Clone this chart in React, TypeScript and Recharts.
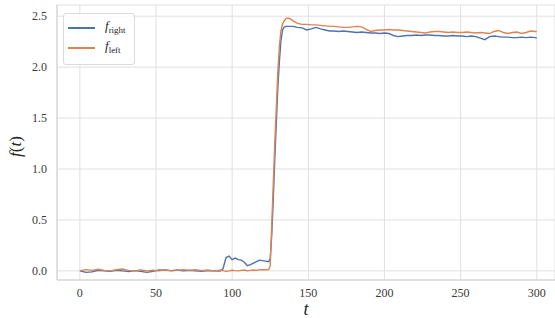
import { LineChart, Line, XAxis, YAxis, CartesianGrid, Legend, Label } from "recharts";

// time samples (denser around the jump)
const tValues = [
  0, 4, 8, 12, 16, 20, 24, 28, 32, 36, 40, 44, 48, 52, 56, 60, 64, 68, 72, 76, 80, 84, 88, 92,
  94, 96, 98, 100, 102, 104, 106, 108, 110, 112, 114, 116, 118, 120, 122, 124,
  125, 126, 127, 128, 129, 130, 131, 132, 133, 134, 135, 136, 137, 138,
  140, 143, 146, 149, 152, 155, 158, 161, 164, 167, 170, 173, 176, 179, 182, 185, 188, 191, 194, 197,
  200, 203, 206, 209, 212, 215, 218, 221, 224, 227, 230, 233, 236, 239, 242, 245, 248, 251, 254, 257,
  260, 263, 266, 269, 272, 275, 278, 281, 284, 287, 290, 293, 296, 299, 300,
];

const fRight = [
  0.0, -0.015, -0.01, 0.005, 0.0, -0.005, 0.005, 0.0, -0.008, 0.002, -0.005, -0.015, -0.005, 0.008, 0.005, 0.002, 0.008, 0.0, 0.005, 0.0, -0.005, 0.002, 0.0, -0.003,
  0.02, 0.13, 0.145, 0.11, 0.125, 0.11, 0.105, 0.085, 0.05, 0.06, 0.075, 0.09, 0.105, 0.1, 0.095, 0.09,
  0.12, 0.35, 0.7, 1.1, 1.45, 1.8, 2.05, 2.25, 2.36, 2.39, 2.4, 2.4, 2.4, 2.4,
  2.4, 2.39, 2.385, 2.365, 2.375, 2.39, 2.375, 2.365, 2.355, 2.355, 2.35, 2.355, 2.35, 2.345, 2.34, 2.345, 2.34, 2.335, 2.335, 2.33,
  2.335, 2.33, 2.31, 2.3, 2.305, 2.31, 2.31, 2.315, 2.31, 2.315, 2.315, 2.31, 2.31, 2.305, 2.305, 2.31, 2.305, 2.305, 2.3, 2.305,
  2.3, 2.285, 2.27, 2.3, 2.305, 2.3, 2.295, 2.295, 2.29, 2.29, 2.295, 2.29, 2.295, 2.29, 2.285,
];

const fLeft = [
  0.0, 0.012, 0.005, 0.015, 0.005, 0.0, 0.01, 0.018, 0.005, 0.0, 0.008, 0.0, 0.005, 0.0, 0.01, 0.0, 0.005, 0.012, 0.005, 0.01, 0.002, 0.008, 0.0, 0.005,
  0.002, -0.005, 0.0, 0.005, 0.002, 0.0, 0.005, 0.008, 0.0, 0.005, 0.008, 0.005, 0.01, 0.012, 0.01, 0.012,
  0.05, 0.45, 0.85, 1.25, 1.6, 1.95, 2.2, 2.35, 2.42, 2.45, 2.47, 2.48, 2.48, 2.475,
  2.455, 2.43, 2.42, 2.42, 2.415, 2.415, 2.41, 2.405, 2.4, 2.4, 2.395, 2.39, 2.39, 2.395, 2.4, 2.395, 2.37, 2.35, 2.36, 2.365,
  2.365, 2.37, 2.365, 2.365, 2.36, 2.355, 2.35, 2.345, 2.34, 2.335, 2.345, 2.35, 2.35, 2.345, 2.34, 2.345, 2.34, 2.34, 2.345, 2.34,
  2.335, 2.34, 2.335, 2.33, 2.35, 2.36, 2.34, 2.33, 2.34, 2.345, 2.33, 2.34, 2.355, 2.35, 2.35,
];

const xTicks = [0, 50, 100, 150, 200, 250, 300];
const yTicks = [0, 0.5, 1.0, 1.5, 2.0, 2.5];

const BLUE = "#4c72b0";
const ORANGE = "#dd8452";
const GRID = "#e0e0e0";
const SPINE = "#d0d0d0";
const FONT = "'Liberation Serif', 'DejaVu Serif', serif";

const data = tValues.map((t, i) => ({ t, right: fRight[i], left: fLeft[i] }));

const LegendBox = () => {
  const row = (color: string, sub: string, top: number) => (
    <div style={{ position: "absolute", left: 0, top, height: 20, width: "100%" }}>
      <div style={{ position: "absolute", left: 4, top: 10, width: 27, height: 1.5, background: color }} />
      <div style={{ position: "absolute", left: 41, top: 1, fontFamily: FONT, fontSize: 13, color: "#262626", whiteSpace: "nowrap" }}>
        <span style={{ fontStyle: "italic" }}>f</span>
        <span style={{ fontSize: 9, position: "relative", top: 3 }}>{sub}</span>
      </div>
    </div>
  );
  return (
    <div style={{
      position: "relative", width: 72, height: 52, boxSizing: "border-box",
      background: "rgba(255,255,255,0.85)", border: "1px solid #dcdcdc", borderRadius: 3,
    }}>
      {row(BLUE, "right", 3)}
      {row(ORANGE, "left", 23)}
    </div>
  );
};

const YLabel = (props: any) => {
  const { viewBox } = props;
  const x = 15;
  const y = viewBox.y + viewBox.height / 2 + 4;
  return (
    <text x={x} y={y} transform={`rotate(-90 ${x} ${y})`} textAnchor="middle" dominantBaseline="central"
      style={{ fontFamily: FONT }} fontSize={17} fill="#262626">
      <tspan fontStyle="italic">f</tspan>(<tspan fontStyle="italic">t</tspan>)
    </text>
  );
};

export default function App() {
  return (
    <div style={{ position: "fixed", left: 0, top: 0, width: 555, height: 318, background: "#fff", overflow: "hidden", fontFamily: FONT }}>
      <LineChart width={555} height={318} data={data} margin={{ top: 5, right: 0, bottom: 0, left: 0 }}
        style={{ fontFamily: FONT }}>
        <CartesianGrid stroke={GRID} strokeWidth={1} />
        <XAxis dataKey="t" type="number" domain={[-15, 312]} ticks={xTicks} allowDataOverflow
          height={38} tickLine={false} axisLine={{ stroke: SPINE }} tickSize={6} tickMargin={2}
          tick={{ fontSize: 12, fill: "#3a3a3a", style: { fontFamily: FONT } }}>
          <Label value="t" position="insideBottom" offset={3} fontSize={18} fontStyle="italic" fill="#262626"
            style={{ fontFamily: FONT }} />
        </XAxis>
        <XAxis xAxisId="top" dataKey="t" type="number" domain={[-15, 312]} orientation="top" height={0}
          tick={false} tickLine={false} axisLine={{ stroke: SPINE }} />
        <YAxis type="number" domain={[-0.09, 2.61]} ticks={yTicks} allowDataOverflow width={57}
          tickLine={false} axisLine={{ stroke: SPINE }} tickSize={6} tickMargin={4}
          tickFormatter={(v: number) => v.toFixed(1)}
          tick={{ fontSize: 12, fill: "#3a3a3a", style: { fontFamily: FONT } }}>
          <Label content={<YLabel />} />
        </YAxis>
        <Legend layout="vertical" align="center" verticalAlign="middle" content={<LegendBox />}
          wrapperStyle={{ left: 63, top: 13, width: 72, height: 52 }} />
        <Line dataKey="right" stroke={BLUE} strokeWidth={1.4} dot={false} activeDot={false} isAnimationActive={false} />
        <Line dataKey="left" stroke={ORANGE} strokeWidth={1.4} dot={false} activeDot={false} isAnimationActive={false} />
      </LineChart>
    </div>
  );
}
